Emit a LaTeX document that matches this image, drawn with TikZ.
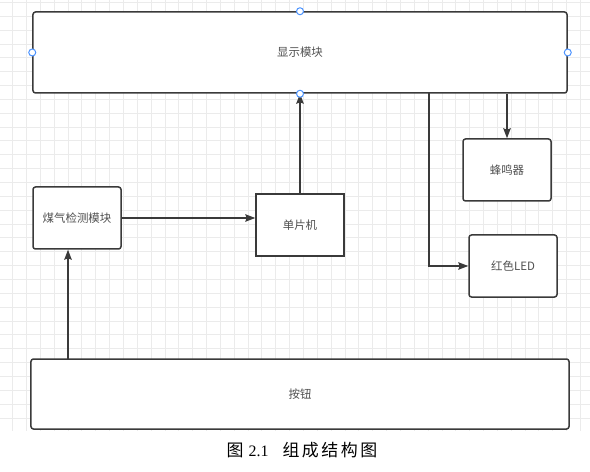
\documentclass[tikz,border=0pt]{standalone}
\usepackage{fontspec}
\setmainfont{Liberation Serif}
\newfontfamily\cjk{Noto Sans CJK SC}
\usetikzlibrary{arrows.meta}
\definecolor{gridc}{HTML}{EBEBEB}
\definecolor{edgec}{HTML}{3A3A3A}
\definecolor{txtc}{HTML}{505050}
\definecolor{handlec}{HTML}{4D94FF}
\tikzset{
  blk/.style={draw=edgec, line width=1.5bp, fill=white, rounded corners=2.5bp, inner sep=0pt,
    font=\cjk\fontsize{11.5}{13}\selectfont, text=txtc},
  conn/.style={draw=edgec, line width=1.5bp, -{Stealth[length=10bp,width=7.5bp,inset=1.5bp]}},
  handle/.style={circle, draw=handlec, fill=white, line width=1bp, minimum size=7bp, inner sep=0pt},
  gridline/.style={draw=gridc, line width=1bp}
}
\begin{document}
\begin{tikzpicture}[x=1bp,y=-1bp]
\useasboundingbox (0,0) rectangle (590,472);
\fill[white] (0,0) rectangle (590,472);
% grid
\foreach \i in {0,...,41} { \draw[gridline] ({12.65+13.85*\i},0) -- ({12.65+13.85*\i},431); }
\foreach \j in {0,...,30} { \draw[gridline] (0,{2.5+13.85*\j}) -- (590,{2.5+13.85*\j}); }
% blocks
\node[blk, minimum width=534bp, minimum height=81bp] (disp) at (300,52.5) {显示模块};
\node[blk, minimum width=88bp, minimum height=62bp] (buzzer) at (507,170) {蜂鸣器};
\node[blk, minimum width=88bp, minimum height=62bp] (led) at (513,266) {红色LED};
\node[blk, minimum width=88bp, minimum height=62bp] (gas) at (77,218) {煤气检测模块};
\node[blk, rounded corners=0pt, minimum width=88bp, minimum height=62bp] (mcu) at (300,225) {单片机};
\node[blk, minimum width=538bp, minimum height=70bp] (btn) at (300,394) {按钮};
% connectors
\coordinate (btnout) at (68,359);
\coordinate (dispout) at (429,93);
\draw[conn] (mcu.north) -- (disp.south);
\draw[conn] (gas.east) -- (gas.east -| mcu.west);
\draw[conn] (btnout) -- (btnout |- gas.south);
\draw[conn] (disp.south -| buzzer.north) -- (buzzer.north);
\draw[conn] (dispout) |- (led.west);
% selection handles
\node[handle] (h1) at (disp.west) {};
\node[handle] (h2) at (disp.east) {};
\node[handle] (h3) at (disp.north) {};
\node[handle] (h4) at (disp.south) {};
% caption
\node[anchor=west, inner sep=0pt, font=\fontsize{17}{20}\selectfont] (cap) at (226.5,450)
  {{\cjk 图}\hspace{5bp}{\fontsize{16}{20}\selectfont 2.1}\hspace{14bp}{\cjk 组\hspace{2.5bp}成\hspace{2.5bp}结\hspace{2.5bp}构\hspace{2.5bp}图}};
\end{tikzpicture}
\end{document}
